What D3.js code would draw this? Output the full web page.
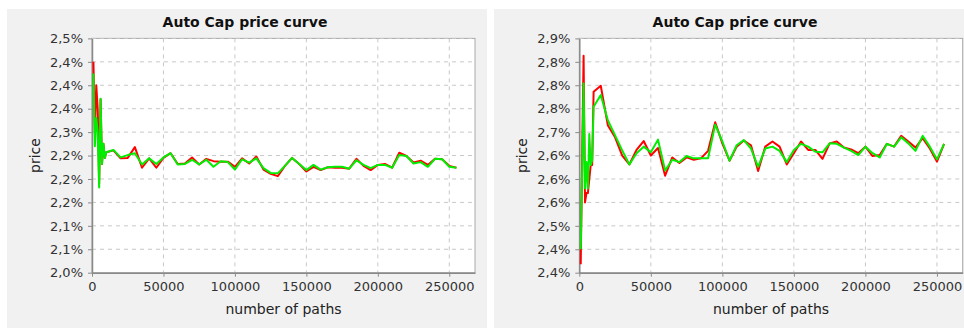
<!DOCTYPE html>
<html lang="en">
<head>
<meta charset="UTF-8">
<title>Auto Cap price curve</title>
<script src="https://d3js.org/d3.v7.min.js"></script>
<style>
  body { margin: 0; background: #fff; font-family: "DejaVu Sans", sans-serif; }
  svg { display: block; }
  .grid line { stroke: #c8c8c8; stroke-dasharray: 4,4; }
  .axis path, .axis line { stroke: #8a8a8a; }
  .axis text { fill: #333; font-size: 13px; font-family: "DejaVu Sans", sans-serif; }
</style>
</head>
<body>
<svg width="964" height="329"></svg>
<script>
// number of paths (shared by all series)
const paths = [1000, 2000, 3000, 4000, 5000, 6000, 7000, 8000, 9000, 10000,
  15000, 20000, 25000, 30000, 35000, 40000, 45000, 50000, 55000, 60000,
  65000, 70000, 75000, 80000, 85000, 90000, 95000, 100000, 105000, 110000,
  115000, 120000, 125000, 130000, 135000, 140000, 145000, 150000, 155000, 160000,
  165000, 170000, 175000, 180000, 185000, 190000, 195000, 200000, 205000, 210000,
  215000, 220000, 225000, 230000, 235000, 240000, 245000, 250000, 255000];

// left chart, price in %
const leftRed = [2.45, 2.30, 2.40, 2.35, 2.19, 2.37, 2.232, 2.275, 2.245, 2.257,
  2.261, 2.244, 2.245, 2.268, 2.224, 2.244, 2.224, 2.245, 2.255, 2.232,
  2.233, 2.246, 2.231, 2.243, 2.238, 2.237, 2.237, 2.226, 2.244, 2.233,
  2.248, 2.220, 2.211, 2.206, 2.228, 2.245, 2.232, 2.216, 2.226, 2.219,
  2.225, 2.224, 2.224, 2.222, 2.243, 2.228, 2.219, 2.230, 2.232, 2.224,
  2.256, 2.249, 2.235, 2.239, 2.230, 2.243, 2.242, 2.228, 2.224];
const leftGreen = [2.425, 2.27, 2.33, 2.30, 2.182, 2.371, 2.232, 2.275, 2.245, 2.257,
  2.262, 2.246, 2.251, 2.255, 2.231, 2.244, 2.232, 2.246, 2.255, 2.231,
  2.232, 2.241, 2.231, 2.241, 2.226, 2.238, 2.236, 2.220, 2.242, 2.235,
  2.244, 2.223, 2.213, 2.212, 2.228, 2.245, 2.232, 2.219, 2.230, 2.220,
  2.225, 2.226, 2.226, 2.222, 2.240, 2.230, 2.223, 2.230, 2.230, 2.224,
  2.251, 2.249, 2.233, 2.236, 2.226, 2.243, 2.242, 2.226, 2.224];

// right chart, price in %
const rightRed = [2.418, 2.65, 2.863, 2.55, 2.57, 2.57, 2.60, 2.63, 2.63, 2.786,
  2.799, 2.714, 2.689, 2.650, 2.631, 2.662, 2.681, 2.650, 2.666, 2.607,
  2.646, 2.634, 2.646, 2.641, 2.644, 2.660, 2.721, 2.676, 2.639, 2.669,
  2.682, 2.672, 2.617, 2.669, 2.680, 2.669, 2.631, 2.655, 2.680, 2.662,
  2.662, 2.643, 2.676, 2.680, 2.667, 2.663, 2.655, 2.669, 2.649, 2.651,
  2.675, 2.669, 2.692, 2.680, 2.667, 2.687, 2.665, 2.637, 2.675];
const rightGreen = [2.45, 2.62, 2.804, 2.58, 2.636, 2.58, 2.696, 2.63, 2.64, 2.754,
  2.779, 2.725, 2.693, 2.661, 2.631, 2.655, 2.669, 2.657, 2.684, 2.618,
  2.641, 2.636, 2.649, 2.644, 2.644, 2.644, 2.716, 2.680, 2.639, 2.672,
  2.683, 2.665, 2.626, 2.665, 2.669, 2.660, 2.636, 2.662, 2.675, 2.669,
  2.658, 2.657, 2.676, 2.675, 2.667, 2.660, 2.651, 2.669, 2.655, 2.646,
  2.675, 2.669, 2.689, 2.676, 2.660, 2.692, 2.669, 2.642, 2.675];

// axis ticks
const xTicks = [0, 50000, 100000, 150000, 200000, 250000];
const leftYTicks = [2.00, 2.05, 2.10, 2.15, 2.20, 2.25, 2.30, 2.35, 2.40, 2.45, 2.50];
const leftYLabels = ["2,0%", "2,1%", "2,1%", "2,2%", "2,2%", "2,2%", "2,3%", "2,4%", "2,4%", "2,4%", "2,5%"];
const rightYTicks = [2.40, 2.45, 2.50, 2.55, 2.60, 2.65, 2.70, 2.75, 2.80, 2.85, 2.90];
const rightYLabels = ["2,4%", "2,4%", "2,5%", "2,6%", "2,6%", "2,6%", "2,7%", "2,8%", "2,8%", "2,8%", "2,9%"];

const svg = d3.select("svg");

function drawChart(cfg) {
    const g = svg.append("g");

    // panel background
    g.append("rect")
        .attr("x", cfg.panel[0]).attr("y", cfg.panel[1])
        .attr("width", cfg.panel[2]).attr("height", cfg.panel[3])
        .attr("fill", "#f1f1f1");

    const x = d3.scaleLinear().domain([0, 268000]).range([cfg.left, cfg.right]);
    const y = d3.scaleLinear().domain([cfg.yTicks[0], cfg.yTicks[cfg.yTicks.length - 1]])
        .range([cfg.bottom, cfg.top]);

    // plot area
    g.append("rect")
        .attr("x", cfg.left).attr("y", cfg.top)
        .attr("width", cfg.right - cfg.left).attr("height", cfg.bottom - cfg.top)
        .attr("fill", "#fff")
        .attr("stroke", "#a8a8a8");

    // dashed grid
    g.append("g").attr("class", "grid")
        .selectAll("line.h").data(cfg.yTicks.slice(1)).enter().append("line")
        .attr("x1", cfg.left).attr("x2", cfg.right)
        .attr("y1", d => y(d)).attr("y2", d => y(d));
    g.append("g").attr("class", "grid")
        .selectAll("line.v").data(xTicks.slice(1)).enter().append("line")
        .attr("x1", d => x(d)).attr("x2", d => x(d))
        .attr("y1", cfg.top).attr("y2", cfg.bottom);

    // axes
    g.append("g").attr("class", "axis")
        .attr("transform", `translate(0,${cfg.bottom})`)
        .call(d3.axisBottom(x).tickValues(xTicks).tickFormat(d3.format("d"))
            .tickSizeInner(4).tickSizeOuter(0).tickPadding(5))
        .select(".domain").attr("stroke-width", 1.5);

    g.append("g").attr("class", "axis")
        .attr("transform", `translate(${cfg.left},0)`)
        .call(d3.axisLeft(y).tickValues(cfg.yTicks)
            .tickFormat((d, i) => cfg.yLabels[i])
            .tickSizeInner(4).tickSizeOuter(0).tickPadding(5))
        .select(".domain").attr("stroke-width", 1.5);

    // series: red first, green drawn on top
    const line = d3.line().x(d => x(d[0])).y(d => y(d[1]));
    [[cfg.red, "#ff0000"], [cfg.green, "#00ee00"]].forEach(([vals, color]) => {
        g.append("path")
            .datum(paths.map((p, i) => [p, vals[i]]))
            .attr("fill", "none")
            .attr("stroke", color)
            .attr("stroke-width", 2)
            .attr("stroke-linejoin", "round")
            .attr("d", line);
    });

    // texts
    g.append("text")
        .attr("x", cfg.titleX).attr("y", 27)
        .attr("text-anchor", "middle")
        .style("font-size", "14px").style("font-weight", "bold")
        .attr("fill", "#111")
        .text("Auto Cap price curve");

    g.append("text")
        .attr("transform", `translate(${cfg.yLabelX},${(cfg.top + cfg.bottom) / 2}) rotate(-90)`)
        .attr("text-anchor", "middle")
        .attr("dy", "0.35em")
        .style("font-size", "14px")
        .attr("fill", "#222")
        .text("price");

    g.append("text")
        .attr("x", (cfg.left + cfg.right) / 2).attr("y", 314)
        .attr("text-anchor", "middle")
        .style("font-size", "14px")
        .attr("fill", "#222")
        .text("number of paths");
}

drawChart({
    panel: [7, 9, 480, 319],
    left: 92, right: 475, top: 38.4, bottom: 272.7,
    titleX: 245, yLabelX: 35,
    yTicks: leftYTicks, yLabels: leftYLabels,
    red: leftRed, green: leftGreen
});

drawChart({
    panel: [494, 9, 470, 319],
    left: 579.3, right: 962.7, top: 38.4, bottom: 272.7,
    titleX: 735, yLabelX: 522,
    yTicks: rightYTicks, yLabels: rightYLabels,
    red: rightRed, green: rightGreen
});
</script>
</body>
</html>
